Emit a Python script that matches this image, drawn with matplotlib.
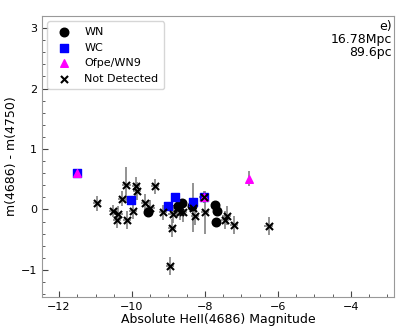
import matplotlib
matplotlib.use('Agg')
import matplotlib.pyplot as plt
from matplotlib.ticker import MultipleLocator

# WN stars (black circles)
wn_mag = [-9.56, -8.63, -8.74, -8.36, -7.73, -7.67, -7.70]
wn_col = [-0.05, 0.10, 0.05, 0.05, 0.07, -0.03, -0.20]
wn_err = [0.05, 0.08, 0.08, 0.06, 0.05, 0.05, 0.06]

# WC stars (blue squares)
wc_mag = [-11.50, -10.03, -9.01, -8.82, -8.33, -8.03]
wc_col = [0.60, 0.15, 0.05, 0.20, 0.12, 0.20]
wc_err = [0.05, 0.06, 0.06, 0.07, 0.05, 0.05]

# Ofpe/WN9 (magenta triangles)
of_mag = [-11.50, -8.03, -6.80]
of_col = [0.60, 0.20, 0.51]
of_err = [0.05, 0.05, 0.12]

# Not detected (black x)
nd_mag = [-10.96, -10.16, -9.89, -9.86, -9.37, -10.27, -10.52, -10.38, -10.41,
          -10.14, -9.97, -9.64, -9.50, -9.15, -8.90, -8.96, -8.88, -8.77, -8.60,
          -8.33, -8.27, -8.00, -8.03, -7.40, -7.45, -7.20, -6.25, -8.68]
nd_col = [0.10, 0.41, 0.38, 0.30, 0.38, 0.18, -0.03, -0.07, -0.18,
          -0.18, -0.03, 0.10, 0.03, -0.05, -0.30, -0.93, -0.07, 0.03, -0.05,
          0.03, -0.10, -0.05, 0.20, -0.10, -0.17, -0.25, -0.28, -0.05]
nd_err = [0.12, 0.30, 0.15, 0.15, 0.12, 0.12, 0.10, 0.12, 0.12,
          0.15, 0.12, 0.15, 0.12, 0.12, 0.15, 0.15, 0.15, 0.15, 0.15,
          0.40, 0.15, 0.35, 0.10, 0.15, 0.15, 0.15, 0.15, 0.12]
nd_xerr = 0.12

fig = plt.figure(figsize=(4.15, 3.32), dpi=100)
ax = fig.add_axes([0.101, 0.105, 0.848, 0.847])

ax.errorbar(nd_mag, nd_col, yerr=nd_err, xerr=nd_xerr, fmt='none',
            ecolor='grey', elinewidth=1.2, zorder=1)
ax.errorbar(wn_mag, wn_col, yerr=wn_err, fmt='none', ecolor='grey', elinewidth=1.2, zorder=1)
ax.errorbar(wc_mag, wc_col, yerr=wc_err, fmt='none', ecolor='grey', elinewidth=1.2, zorder=1)
ax.errorbar(of_mag, of_col, yerr=of_err, fmt='none', ecolor='grey', elinewidth=1.2, zorder=1)

ax.scatter(wn_mag, wn_col, marker='o', color='black', s=38, label='WN', zorder=3)
ax.scatter(wc_mag, wc_col, marker='s', color='blue', s=36, label='WC', zorder=3)
ax.scatter(of_mag, of_col, marker='^', color='magenta', s=30, label='Ofpe/WN9', zorder=4)
ax.scatter(nd_mag, nd_col, marker='x', color='black', s=26, label='Not Detected', zorder=5)

ax.set_xlim(-12.47, -2.82)
ax.set_ylim(-1.45, 3.2)
ax.xaxis.set_major_locator(MultipleLocator(2))
ax.xaxis.set_minor_locator(MultipleLocator(0.5))
ax.yaxis.set_major_locator(MultipleLocator(1))
ax.yaxis.set_minor_locator(MultipleLocator(0.2))
ax.tick_params(which='both', direction='in', labelsize=8, color='#444444')
ax.tick_params(which='major', length=4)
ax.tick_params(which='minor', length=2)
for sp in ax.spines.values():
    sp.set_color('#999999')

ax.set_xlabel('Absolute HeII(4686) Magnitude', fontsize=9, labelpad=1)
ax.set_ylabel('m(4686) - m(4750)', fontsize=9, labelpad=2)

ax.text(0.995, 0.985, 'e)\n16.78Mpc\n89.6pc', transform=ax.transAxes,
        ha='right', va='top', fontsize=9, linespacing=1.0)

ax.legend(loc='upper left', fontsize=8, handletextpad=0.8, borderpad=0.5)

fig.savefig('out.png', dpi=100)
